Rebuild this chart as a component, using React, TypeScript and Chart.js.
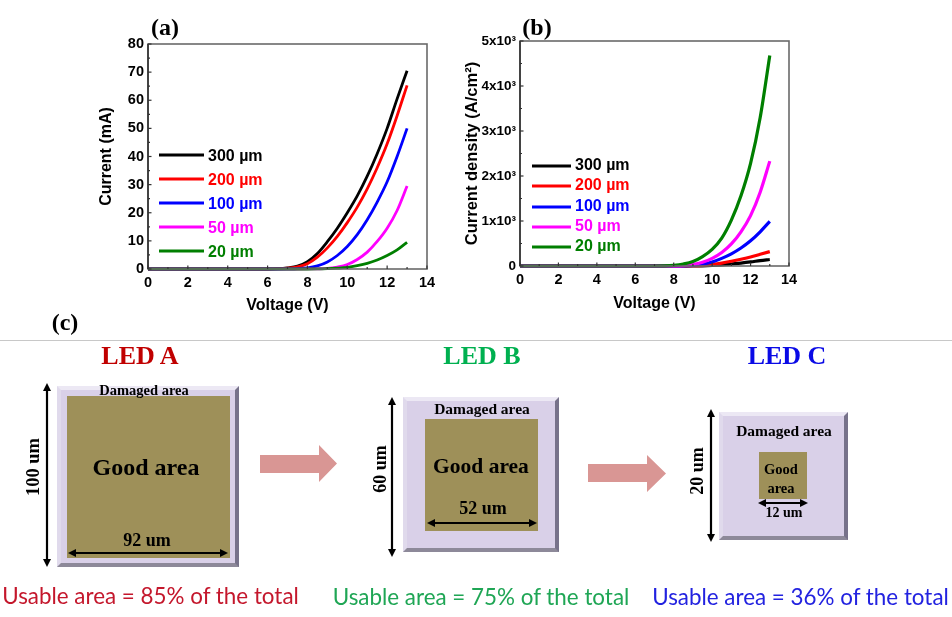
import React, { useEffect, useRef } from "react";
import { Chart, registerables } from "chart.js";

Chart.register(...registerables);

const voltage = [0, 6, 6.5, 7, 7.5, 8, 8.5, 9, 9.5, 10, 10.5, 11, 11.5, 12, 12.5, 13];

const sizeLabels = ["300 µm", "200 µm", "100 µm", "50 µm", "20 µm"];
const seriesColors = ["#000000", "#ff0000", "#0000ff", "#ff00ff", "#007f00"];

const current300 = [0, 0, 0.1, 0.4, 1, 2.6, 5.5, 9.7, 14.5, 20, 26, 33, 41, 50, 60.5, 70.5];
const current200 = [0, 0, 0.1, 0.3, 0.8, 1.9, 4.2, 7.5, 11.6, 16.5, 22, 28.5, 36, 44.5, 54.5, 65.3];
const current100 = [0, 0, 0, 0.05, 0.15, 0.4, 1.1, 2.5, 4.8, 8, 12.2, 17.5, 23.8, 31, 40, 50];
const current50 = [0, 0, 0, 0, 0, 0.02, 0.07, 0.2, 0.7, 1.6, 3.4, 6, 9.8, 14.5, 20.8, 29.5];
const current20 = [0, 0, 0, 0, 0, 0, 0.01, 0.1, 0.3, 0.6, 1.2, 2, 3.2, 4.8, 6.8, 9.5];

const density300 = [0, 0, 0, 0, 0, 0, 0, 1, 4, 12, 25, 45, 65, 90, 120, 145];
const density200 = [0, 0, 0, 0, 0, 0, 0, 5, 15, 35, 65, 105, 150, 200, 260, 320];
const density100 = [0, 0, 0, 0, 0, 0, 3, 15, 45, 90, 170, 270, 400, 560, 760, 990];
const density50 = [0, 0, 0, 0, 0, 2, 10, 35, 85, 170, 300, 490, 760, 1120, 1640, 2330];
const density20 = [0, 0, 0, 0, 3, 15, 45, 100, 210, 370, 620, 1020, 1560, 2280, 3300, 4680];

const currentTicksY = [0, 10, 20, 30, 40, 50, 60, 70, 80];
const densityTickLabels = ["0", "1x10³", "2x10³", "3x10³", "4x10³", "5x10³"];

const BOLD = '"Liberation Sans", Arial, sans-serif';
const SERIF = '"Liberation Serif", "Times New Roman", serif';
const AXIS_GREY = "#6a6a6a";

const framePlugin = {
  id: "frame",
  afterDatasetsDraw(chart: any, _a: any, opts: any) {
    const { ctx, chartArea: a, scales } = chart;
    ctx.save();
    ctx.strokeStyle = AXIS_GREY;
    ctx.lineWidth = 1.6;
    ctx.strokeRect(a.left, a.top, a.right - a.left, a.bottom - a.top);
    ctx.strokeStyle = "#333";
    ctx.beginPath();
    ctx.moveTo(a.left, a.top);
    ctx.lineTo(a.left, a.bottom);
    ctx.stroke();
    ctx.lineWidth = 1.2;
    const xMax = scales.x.max;
    for (let v = 0; v <= xMax; v += 1) {
      const px = scales.x.getPixelForValue(v);
      const len = v % 2 === 0 ? 3.5 : 2;
      ctx.beginPath();
      ctx.moveTo(px, a.bottom);
      ctx.lineTo(px, a.bottom - len);
      ctx.stroke();
    }
    const yStep = opts.yStep;
    for (let i = 0; (i * yStep) / 2 <= scales.y.max; i += 1) {
      const py = scales.y.getPixelForValue((i * yStep) / 2);
      const len = i % 2 === 0 ? 3.5 : 2;
      ctx.beginPath();
      ctx.moveTo(a.left, py);
      ctx.lineTo(a.left + len, py);
      ctx.stroke();
    }
    ctx.restore();
  },
};

const legendPlugin = {
  id: "insetLegend",
  afterDraw(chart: any, _a: any, opts: any) {
    const { ctx } = chart;
    ctx.save();
    ctx.font = `bold ${opts.fontSize}px ${BOLD}`;
    ctx.textBaseline = "middle";
    chart.data.datasets.forEach((d: any, i: number) => {
      const y = opts.y[i];
      ctx.strokeStyle = d.borderColor;
      ctx.lineWidth = opts.lineWidth;
      ctx.beginPath();
      ctx.moveTo(opts.x0, y);
      ctx.lineTo(opts.x1, y);
      ctx.stroke();
      ctx.fillStyle = d.borderColor;
      ctx.fillText(d.label, opts.textX, y + opts.textDy);
    });
    ctx.restore();
  },
};

function useLineChart(ref: any, config: any) {
  useEffect(() => {
    const chart = new Chart(ref.current, config());
    return () => chart.destroy();
  }, []);
}

const buildDatasets = (rows: number[][], lineWidth: number) =>
  rows.map((vals, i) => ({
    label: sizeLabels[i],
    data: vals.map((y, k) => ({ x: voltage[k], y })),
    borderColor: seriesColors[i],
    backgroundColor: seriesColors[i],
    borderWidth: lineWidth,
    pointRadius: 0,
    cubicInterpolationMode: "monotone",
    clip: false,
    order: rows.length - i,
  }));

const commonOptions = (layout: any, yScale: any, xTitlePad: any, plugins: any, xFit: number, yFit: number) => ({
  animation: false,
  responsive: false,
  devicePixelRatio: 1,
  layout: { padding: layout },
  plugins: { legend: { display: false }, tooltip: { enabled: false }, ...plugins },
  scales: {
    x: {
      type: "linear",
      min: 0,
      max: 14,
      afterFit: (s: any) => {
        s.height = xFit;
      },
      grid: { display: false, tickLength: 0 },
      border: { display: false },
      ticks: { stepSize: 2, color: "#000", padding: 5, maxRotation: 0, font: { family: BOLD, weight: "bold", size: 14.5 } },
      title: { display: true, text: "Voltage (V)", color: "#000", padding: xTitlePad, font: { family: BOLD, weight: "bold", size: 16 } },
    },
    y: {
      afterFit: (s: any) => {
        s.width = yFit;
      },
      grid: { display: false, tickLength: 0 },
      border: { display: false },
      ...yScale,
    },
  },
});

const canvasFilter = "blur(0.35px)";

function PanelA() {
  const ref = useRef<HTMLCanvasElement>(null);
  useLineChart(ref, () => ({
    type: "line",
    data: { datasets: buildDatasets([current300, current200, current100, current50, current20], 2.8) },
    plugins: [framePlugin, legendPlugin],
    options: commonOptions(
      { top: 24, right: 23, left: 7, bottom: 0 },
      {
        min: currentTicksY[0],
        max: currentTicksY[currentTicksY.length - 1],
        ticks: { stepSize: 10, color: "#000", padding: 4, font: { family: BOLD, weight: "bold", size: 14.5 } },
        title: { display: true, text: "Current (mA)", color: "#000", padding: { top: 0, bottom: 0 }, font: { family: BOLD, weight: "bold", size: 16 } },
      },
      { top: 6, bottom: 5 },
      {
        frame: { yStep: 10 },
        insetLegend: { x0: 69, x1: 114, textX: 118, y: [135, 159, 183, 207, 231], textDy: 2, fontSize: 16, lineWidth: 2.8 },
      },
      51,
      51
    ),
  }));
  return <canvas ref={ref} width={360} height={300} style={{ position: "absolute", left: 90, top: 20, filter: canvasFilter }} />;
}

function PanelB() {
  const ref = useRef<HTMLCanvasElement>(null);
  useLineChart(ref, () => ({
    type: "line",
    data: { datasets: buildDatasets([density300, density200, density100, density50, density20], 3.2) },
    plugins: [framePlugin, legendPlugin],
    options: commonOptions(
      { top: 21, right: 21, left: 3, bottom: 0 },
      {
        min: 0,
        max: 5000,
        ticks: {
          stepSize: 1000,
          color: "#000",
          padding: 4,
          font: { family: BOLD, weight: "bold", size: 13.5 },
          callback: (v: number) => densityTickLabels[v / 1000],
        },
        title: { display: true, text: "Current density (A/cm²)", color: "#000", padding: { top: 0, bottom: 0 }, font: { family: BOLD, weight: "bold", size: 16.5 } },
      },
      { top: 6, bottom: 7 },
      {
        frame: { yStep: 1000 },
        insetLegend: { x0: 72, x1: 111, textX: 115, y: [146, 166, 187, 207, 227], textDy: 0, fontSize: 16, lineWidth: 2.8 },
      },
      54,
      57
    ),
  }));
  return <canvas ref={ref} width={350} height={300} style={{ position: "absolute", left: 460, top: 20, filter: canvasFilter }} />;
}

const abs = (o: any): React.CSSProperties => ({ position: "absolute", ...o });

function Txt(p: { x: number; y: number; size: number; color?: string; rot?: boolean; family?: string; weight?: string; children: any }) {
  return (
    <div
      style={abs({
        left: p.x,
        top: p.y,
        transform: `translate(-50%,-50%)${p.rot ? " rotate(-90deg)" : ""}`,
        font: `${p.weight || "bold"} ${p.size}px ${p.family || SERIF}`,
        color: p.color || "#000",
        whiteSpace: "nowrap",
        lineHeight: 1,
      })}
    >
      {p.children}
    </div>
  );
}

function Bevel(p: { x0: number; y0: number; x1: number; y1: number; ix0: number; iy0: number; ix1: number; iy1: number }) {
  return (
    <>
      <div
        style={abs({
          left: p.x0,
          top: p.y0,
          width: p.x1 - p.x0,
          height: p.y1 - p.y0,
          boxSizing: "border-box",
          background: "#d9d0e8",
          borderStyle: "solid",
          borderWidth: 4,
          borderColor: "#ece8f4 #77728a #8d8999 #e0daec",
        })}
      />
      <div style={abs({ left: p.ix0, top: p.iy0, width: p.ix1 - p.ix0, height: p.iy1 - p.iy0, background: "#9e9059" })} />
    </>
  );
}

function Diagram() {
  const harrow = (x0: number, x1: number, y: number) => (
    <g>
      <line x1={x0 + 5} x2={x1 - 5} y1={y} y2={y} stroke="#000" strokeWidth={2} />
      <path d={`M${x0} ${y}l8 -4v8zM${x1} ${y}l-8 -4v8z`} fill="#000" />
    </g>
  );
  const varrow = (x: number, y0: number, y1: number) => (
    <g>
      <line y1={y0 + 5} y2={y1 - 5} x1={x} x2={x} stroke="#000" strokeWidth={2.2} />
      <path d={`M${x} ${y0}l-4 8h8zM${x} ${y1}l-4 -8h8z`} fill="#000" />
    </g>
  );
  const big = (x0: number, xh: number, x1: number, y0: number, y1: number, h0: number, h1: number) => (
    <path d={`M${x0} ${y0}H${xh}V${h0}L${x1} ${(h0 + h1) / 2}L${xh} ${h1}V${y1}H${x0}Z`} fill="#d99694" />
  );
  return (
    <div style={abs({ left: 0, top: 0, width: 952, height: 617, filter: "blur(0.35px)" })}>
      <Txt x={165} y={27} size={24}>(a)</Txt>
      <Txt x={537} y={27} size={24}>(b)</Txt>
      <Txt x={65} y={322} size={24}>(c)</Txt>
      <div style={abs({ left: 0, top: 340, width: 952, height: 1, background: "#c8c8c8" })} />

      <Txt x={140} y={356} size={26} color="#c00000">LED A</Txt>
      <Txt x={482} y={356} size={26} color="#00b050">LED B</Txt>
      <Txt x={787} y={356} size={26} color="#0a0ae6">LED C</Txt>

      <Bevel x0={57} y0={386} x1={239} y1={567} ix0={67} iy0={396} ix1={230} iy1={558} />
      <Bevel x0={403} y0={397} x1={559} y1={552} ix0={425} iy0={419} ix1={538} iy1={531} />
      <Bevel x0={719} y0={412} x1={848} y1={540} ix0={759} iy0={452} ix1={807} iy1={499} />

      <svg width={952} height={617} style={abs({ left: 0, top: 0 })}>
        {varrow(47, 383, 567)}
        {harrow(68, 228, 553)}
        {varrow(392, 397, 557)}
        {harrow(427, 537, 523)}
        {varrow(711, 409, 542)}
        {harrow(758, 808, 503)}
        {big(260, 319, 337, 455, 473, 445, 482)}
        {big(588, 647, 666, 464, 482, 455, 492)}
      </svg>

      <Txt x={144} y={390} size={14.5}>Damaged area</Txt>
      <Txt x={146} y={467} size={24}>Good area</Txt>
      <Txt x={147} y={540} size={18}>92 um</Txt>
      <Txt x={33} y={467} size={18.5} rot>100 um</Txt>

      <Txt x={482} y={409} size={15.5}>Damaged area</Txt>
      <Txt x={481} y={467} size={21.5}>Good area</Txt>
      <Txt x={483} y={508} size={18}>52 um</Txt>
      <Txt x={380} y={469} size={18} rot>60 um</Txt>

      <Txt x={784} y={431} size={15.5}>Damaged area</Txt>
      <Txt x={781} y={469} size={14.5}>Good</Txt>
      <Txt x={781} y={488} size={14.5}>area</Txt>
      <Txt x={784} y={513} size={14}>12 um</Txt>
      <Txt x={697} y={471} size={18} rot>20 um</Txt>

      <Txt x={150.5} y={596} size={22.4} weight="normal" family="Lato" color="#c4172c">Usable area = 85% of the total</Txt>
      <Txt x={481} y={597} size={22.4} weight="normal" family="Lato" color="#1fa655">Usable area = 75% of the total</Txt>
      <Txt x={800.5} y={597} size={22.4} weight="normal" family="Lato" color="#2222e0">Usable area = 36% of the total</Txt>
    </div>
  );
}

export default function App() {
  useEffect(() => {
    document.body.style.margin = "0";
    document.body.style.background = "#fff";
  }, []);
  return (
    <div style={{ position: "relative", width: 952, height: 617, overflow: "hidden" }}>
      <Diagram />
      <PanelA />
      <PanelB />
    </div>
  );
}
